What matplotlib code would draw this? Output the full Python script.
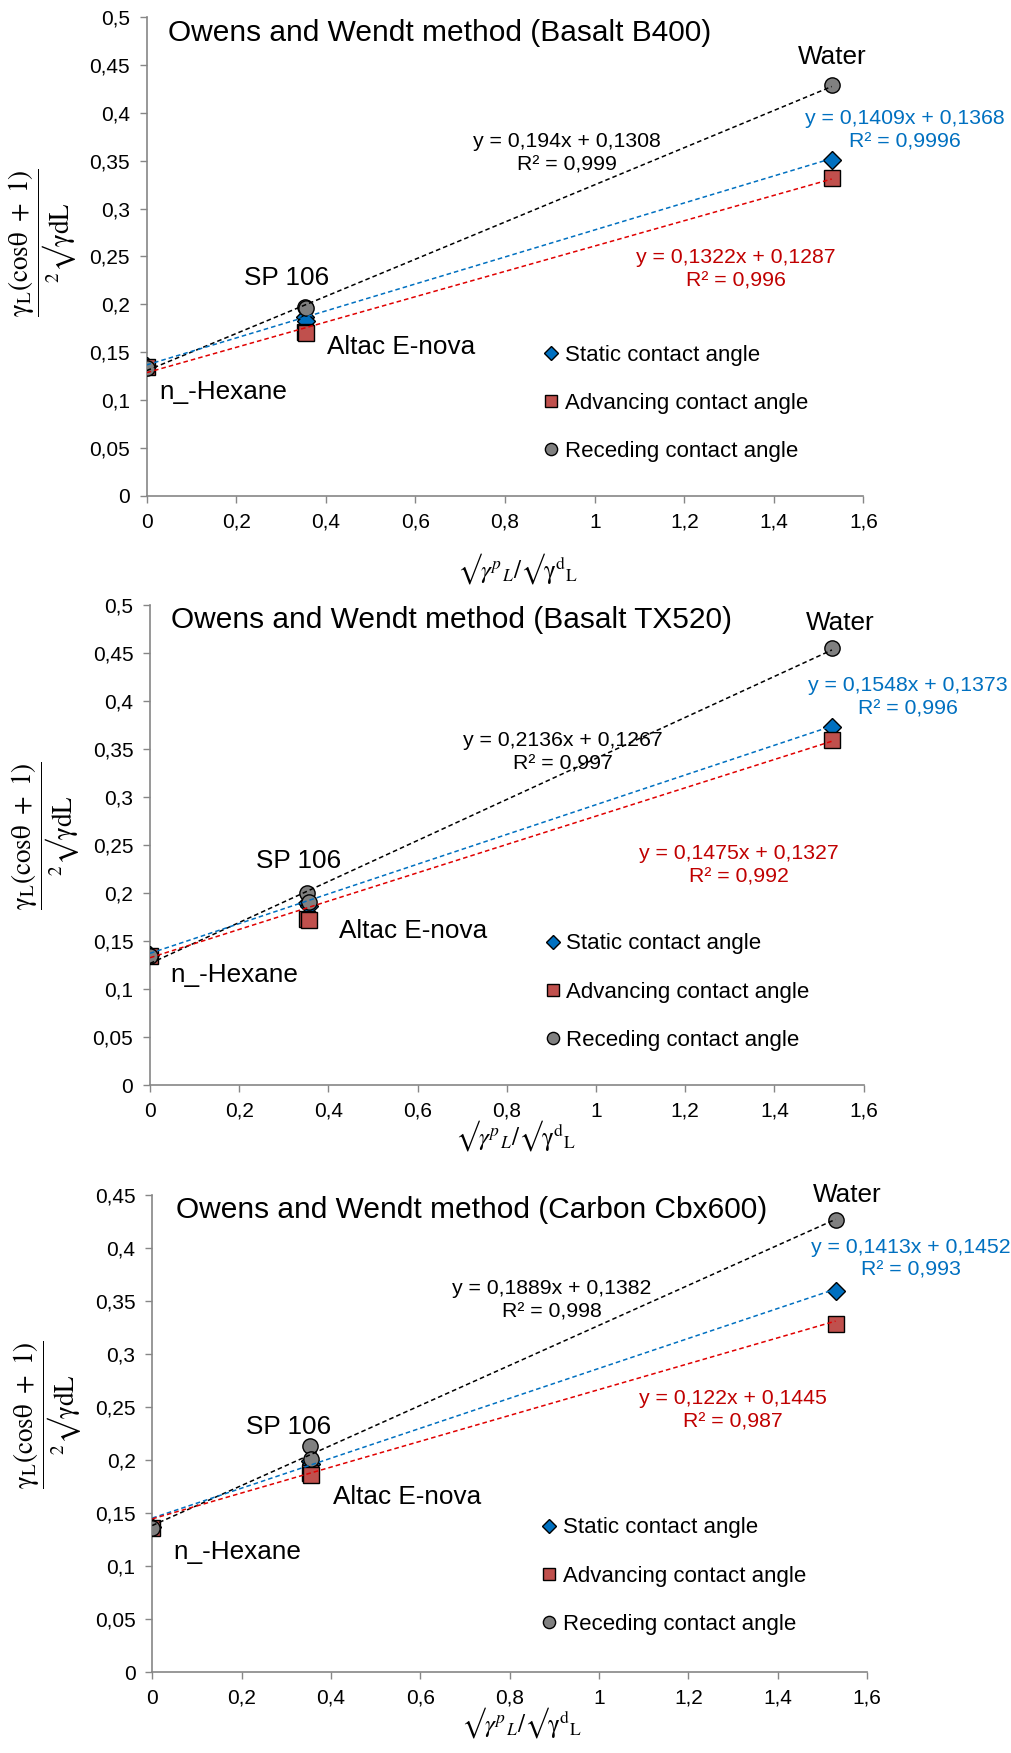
import numpy as np
import matplotlib
matplotlib.use("Agg")
import matplotlib.pyplot as plt
from matplotlib.ticker import FuncFormatter, MultipleLocator

plt.rcParams['font.family'] = ['Liberation Sans', 'DejaVu Sans']
plt.rcParams['mathtext.fontset'] = 'stix'

# liquids: n-hexane, SP 106, Altac E-nova, water
x_liq = [0.0, 0.353, 0.356, 1.529]

titles = ['Owens and Wendt method (Basalt B400)',
          'Owens and Wendt method (Basalt TX520)',
          'Owens and Wendt method (Carbon Cbx600)']

static_vals = [[0.136, 0.187, 0.183, 0.351],
               [0.136, 0.190, 0.187, 0.373],
               [0.137, 0.199, 0.196, 0.359]]
advancing_vals = [[0.135, 0.171, 0.170, 0.332],
                  [0.135, 0.173, 0.172, 0.359],
                  [0.136, 0.188, 0.186, 0.328]]
receding_vals = [[0.134, 0.197, 0.196, 0.429],
                 [0.135, 0.200, 0.191, 0.455],
                 [0.136, 0.213, 0.201, 0.426]]

# trendline fits (slope, intercept, R2 label)
static_fit = [(0.1409, 0.1368, '0,9996'), (0.1548, 0.1373, '0,996'), (0.1413, 0.1452, '0,993')]
advancing_fit = [(0.1322, 0.1287, '0,996'), (0.1475, 0.1327, '0,992'), (0.122, 0.1445, '0,987')]
receding_fit = [(0.194, 0.1308, '0,999'), (0.2136, 0.1267, '0,997'), (0.1889, 0.1382, '0,998')]

y_max = [0.5, 0.5, 0.45]

legend_labels = ['Static contact angle', 'Advancing contact angle', 'Receding contact angle']

# layout (figure fractions) and annotation positions per panel
axes_rect = [[0.1451, 0.7171, 0.7090, 0.2732],
             [0.1484, 0.3810, 0.7058, 0.2738],
             [0.1506, 0.0462, 0.7072, 0.2721]]
ylabel_xy = [(-0.095, 0.528), (-0.096, 0.52), (-0.095, 0.54)]
xlabel_xy = [(0.518, -0.115), (0.512, -0.069), (0.516, -0.069)]
title_x = [0.03, 0.03, 0.033]
title_y = [0.9666, 0.968, 0.9686]
legend_anchor = [(0.555, 0.316), (0.555, 0.316), (0.546, 0.324)]
pos_water = [(1.53, 0.458), (1.547, 0.481), (1.555, 0.45)]
pos_sp = [(0.313, 0.228), (0.333, 0.233), (0.306, 0.231)]
pos_altac = [(0.568, 0.156), (0.589, 0.161), (0.570, 0.165)]
pos_hex = [(0.17, 0.109), (0.189, 0.115), (0.191, 0.113)]
pos_blue = [(1.693, 0.382), (1.70, 0.404), (1.697, 0.390)]
pos_black = [(0.938, 0.358), (0.925, 0.347), (0.894, 0.351)]
pos_red = [(1.315, 0.237), (1.321, 0.229), (1.299, 0.247)]

BLUE = '#0070C0'
RED_T = '#C00000'
SQ = '#C0504D'
GRAY = '#808080'
AXC = '#868686'

fmt = FuncFormatter(lambda v, p: f'{v:g}'.replace('.', ','))

fig = plt.figure(figsize=(10.11, 17.53), dpi=100)

for i in range(3):
    ax = fig.add_axes(axes_rect[i])
    xs = np.array(x_liq)

    ax.plot(xs, static_vals[i], linestyle='none', marker='D', ms=9.5,
            mfc=BLUE, mec='black', mew=1.0, label=legend_labels[0], zorder=3)
    ax.plot(xs, advancing_vals[i], linestyle='none', marker='s', ms=11,
            mfc=SQ, mec='black', mew=1.0, label=legend_labels[1], zorder=3)
    ax.plot(xs, receding_vals[i], linestyle='none', marker='o', ms=11,
            mfc=GRAY, mec='black', mew=1.0, label=legend_labels[2], zorder=3)

    # linear trendlines over the data range
    xt = np.array([0, xs.max()])
    for (m, b, r2), col in [(receding_fit[i], 'black'), (static_fit[i], BLUE),
                            (advancing_fit[i], '#E00000')]:
        ax.plot(xt, m * xt + b, color=col, lw=1.1, ls=(0, (3, 2)), zorder=4)

    def eq(fit):
        m, b, r2 = fit
        return (f'y = {m:g}x + {b:g}'.replace('.', ',') + f'\nR² = {r2}')

    ax.text(*pos_blue[i], eq(static_fit[i]), color=BLUE, fontsize=15.3,
            ha='center', va='center', linespacing=1.28, clip_on=False)
    ax.text(*pos_black[i], eq(receding_fit[i]), color='black', fontsize=15.3,
            ha='center', va='center', linespacing=1.28)
    ax.text(*pos_red[i], eq(advancing_fit[i]), color=RED_T, fontsize=15.3,
            ha='center', va='center', linespacing=1.28)

    for pos, lab in [(pos_water[i], 'Water'), (pos_sp[i], 'SP 106'),
                     (pos_altac[i], 'Altac E-nova'), (pos_hex[i], 'n_-Hexane')]:
        ax.text(*pos, lab, fontsize=18.8, ha='center', va='center', clip_on=False)

    ax.text(title_x[i], title_y[i], titles[i], transform=ax.transAxes,
            fontsize=21.5, ha='left', va='center')

    ax.set_xlim(0, 1.6)
    ax.set_ylim(0, y_max[i])
    ax.xaxis.set_major_locator(MultipleLocator(0.2))
    ax.yaxis.set_major_locator(MultipleLocator(0.05))
    ax.xaxis.set_major_formatter(fmt)
    ax.yaxis.set_major_formatter(fmt)
    ax.tick_params(axis='both', labelsize=15, length=5, width=1, color=AXC,
                   direction='out', pad=7)
    for s in ['top', 'right']:
        ax.spines[s].set_visible(False)
    for s in ['left', 'bottom']:
        ax.spines[s].set_color(AXC)
        ax.spines[s].set_linewidth(1.2)

    ax.set_ylabel(r'$\dfrac{\mathrm{γ}_{\mathrm{L}}\mathrm{(cosθ\ +\ 1)}}{{}^{2}\mathrm{√γdL}}$',
                  fontsize=19.5)
    ax.yaxis.set_label_coords(*ylabel_xy[i])
    ax.set_xlabel(r'$\mathrm{√}\mathit{γ}^{\mathit{p}}{}_{\mathit{L}}\mathrm{/√γ}^{\mathrm{d}}{}_{\mathrm{L}}$',
                  fontsize=18)
    ax.xaxis.set_label_coords(*xlabel_xy[i])

    ax.legend(loc='upper left', bbox_to_anchor=legend_anchor[i], frameon=False,
              fontsize=16, markerscale=0.8, handlelength=0.6, handletextpad=0.3,
              labelspacing=1.22, borderpad=0, borderaxespad=0)

fig.savefig('out.png', dpi=100)
